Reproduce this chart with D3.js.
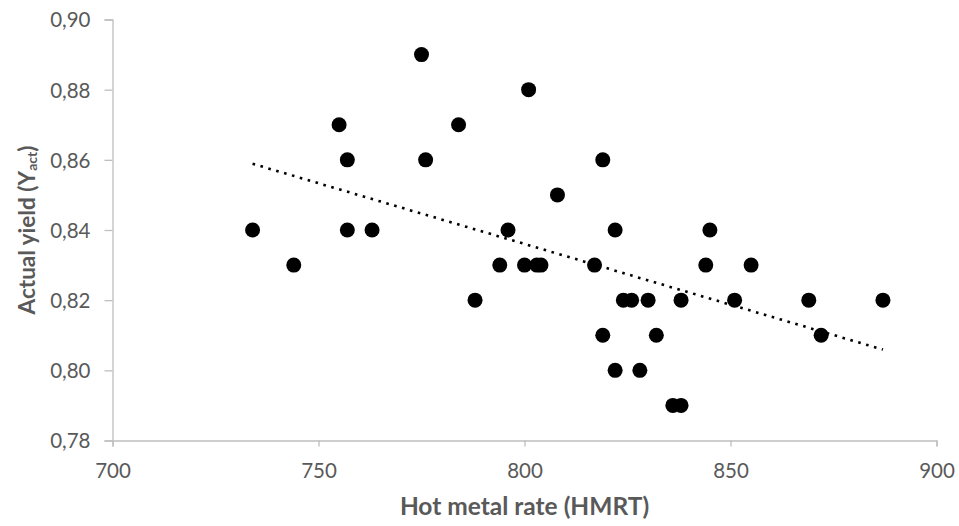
<!DOCTYPE html>
<html>
<head>
<meta charset="utf-8">
<script src="https://cdn.jsdelivr.net/npm/d3@7"></script>
<style>
  html, body { margin: 0; padding: 0; background: #fff; }
  svg { display: block; }
</style>
</head>
<body>
<svg id="chart" width="959" height="526"></svg>
<script>
// Data
const hmrt = [734, 744, 755, 757, 757, 763, 775, 776, 784, 788, 794, 796, 800, 801, 803, 804, 808,
              817, 819, 819, 822, 822, 824, 826, 828, 830, 832, 836, 838, 838, 844, 845, 851, 855, 869, 872, 887];
const yieldAct = [0.84, 0.83, 0.87, 0.86, 0.84, 0.84, 0.89, 0.86, 0.87, 0.82, 0.83, 0.84, 0.83, 0.88, 0.83, 0.83, 0.85,
                  0.83, 0.86, 0.81, 0.84, 0.80, 0.82, 0.82, 0.80, 0.82, 0.81, 0.79, 0.79, 0.82, 0.83, 0.84, 0.82, 0.83, 0.82, 0.81, 0.82];
const xTicks = [700, 750, 800, 850, 900];
const yTicks = [0.78, 0.80, 0.82, 0.84, 0.86, 0.88, 0.90];
const xTitle = "Hot metal rate (HMRT)";

const svg = d3.select("#chart");
const mLeft = 112.5, mRight = 936.5, mTop = 19.5, mBottom = 440.5;

const x = d3.scaleLinear().domain([700, 900]).range([mLeft, mRight]);
const y = d3.scaleLinear().domain([0.78, 0.90]).range([mBottom, mTop]);

const axisColor = "#bfbfbf";
const textColor = "#595959";
const font = "Lato, 'Open Sans', sans-serif";

// Y axis
const yAxis = svg.append("g").attr("transform", `translate(${mLeft},0)`)
  .call(d3.axisLeft(y).tickValues(yTicks).tickSize(8).tickPadding(14)
    .tickFormat(d => d3.format(".2f")(d).replace(".", ",")));
// X axis
const xAxis = svg.append("g").attr("transform", `translate(0,${mBottom})`)
  .call(d3.axisBottom(x).tickValues(xTicks).tickSize(6).tickPadding(14).tickFormat(d3.format("d")));

[yAxis, xAxis].forEach(g => {
  g.select(".domain").attr("stroke", axisColor).attr("stroke-width", 1.3);
  g.selectAll(".tick line").attr("stroke", axisColor).attr("stroke-width", 1.3);
  g.selectAll(".tick text").attr("fill", textColor).style("font-family", font).style("font-size", "20.5px");
});
yAxis.selectAll(".tick text").attr("dy", "0.36em");
xAxis.selectAll(".tick text").attr("dy", "0.85em");

// Linear regression trendline computed from data
const n = hmrt.length;
const mx = d3.mean(hmrt), my = d3.mean(yieldAct);
let sxy = 0, sxx = 0;
for (let i = 0; i < n; i++) { sxy += (hmrt[i] - mx) * (yieldAct[i] - my); sxx += (hmrt[i] - mx) ** 2; }
const slope = sxy / sxx, intercept = my - slope * mx;
const xMin = d3.min(hmrt), xMax = d3.max(hmrt);

// Points
svg.append("g").selectAll("circle")
  .data(hmrt.map((v, i) => [v, yieldAct[i]]))
  .join("circle")
  .attr("cx", d => x(d[0]))
  .attr("cy", d => y(d[1]))
  .attr("r", 7.5)
  .attr("fill", "#000");

svg.append("line")
  .attr("x1", x(xMin)).attr("y1", y(intercept + slope * xMin))
  .attr("x2", x(xMax)).attr("y2", y(intercept + slope * xMax))
  .attr("stroke", "#000").attr("stroke-width", 2.6)
  .attr("stroke-dasharray", "2.6 5.6");

// Axis titles
svg.append("text")
  .attr("x", (mLeft + mRight) / 2).attr("y", 515)
  .attr("text-anchor", "middle")
  .attr("fill", textColor)
  .style("font-family", font).style("font-size", "24.5px").style("font-weight", "bold")
  .text(xTitle);

const yt = svg.append("text")
  .attr("transform", `translate(35,${(mTop + mBottom) / 2}) rotate(-90)`)
  .attr("text-anchor", "middle")
  .attr("fill", textColor)
  .style("font-family", font).style("font-size", "22.5px").style("font-weight", "bold");
yt.append("tspan").text("Actual yield (Y");
yt.append("tspan").attr("font-size", "14px").attr("dy", "2").text("act");
yt.append("tspan").attr("dy", "-2").text(")");
</script>
</body>
</html>
